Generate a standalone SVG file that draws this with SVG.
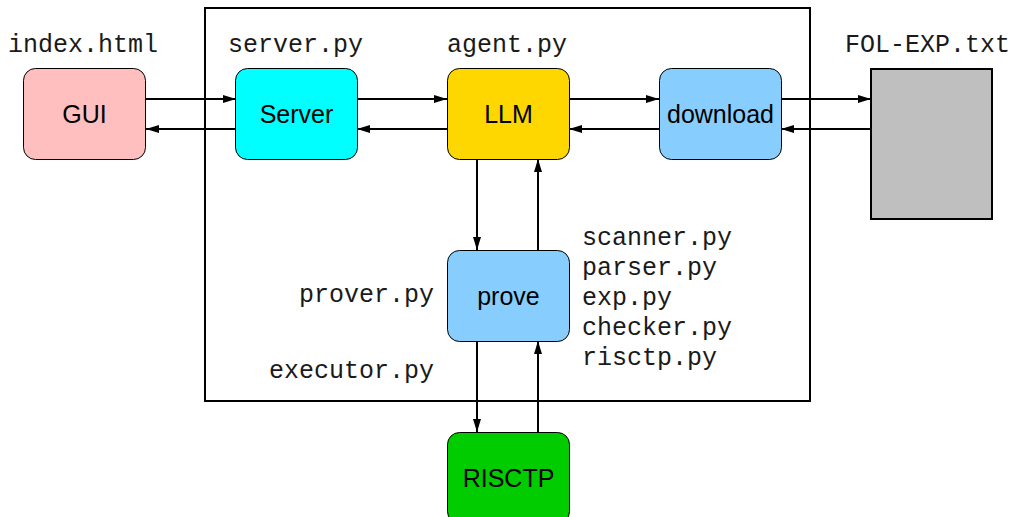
<svg xmlns="http://www.w3.org/2000/svg" width="1017" height="517" viewBox="0 0 1017 517">
  <style>
    .frame { fill: none; stroke: #000; stroke-width: 2; }
    .node { stroke: #000; stroke-width: 1; }
    .file { fill: #bfbfbf; stroke: #000; stroke-width: 2; }
    .lbl { font-family: "Liberation Sans", Arial, sans-serif; font-size: 25px; fill: #000; text-anchor: middle; }
    .mono { font-family: "Liberation Mono", "Courier New", monospace; font-size: 25px; fill: #1a1a1a; }
    .edge { stroke: #000; stroke-width: 2; fill: none; marker-end: url(#arrow); }
  </style>
  <defs>
    <marker id="arrow" markerWidth="13" markerHeight="8" refX="13" refY="4" orient="auto" markerUnits="userSpaceOnUse">
      <path d="M0,0 L13,4 L0,8 Z" fill="#000"/>
    </marker>
  </defs>

  <rect width="1017" height="517" fill="#fff"/>

  <!-- system boundary -->
  <rect class="frame" x="205" y="8" width="605" height="393"/>

  <!-- file labels -->
  <g id="file-labels">
    <text class="mono" x="8" y="52">index.html</text>
    <text class="mono" x="228" y="52">server.py</text>
    <text class="mono" x="447" y="52">agent.py</text>
    <text class="mono" x="845" y="52">FOL-EXP.txt</text>
    <text class="mono" x="434" y="302" text-anchor="end">prover.py</text>
    <text class="mono" x="434" y="378" text-anchor="end">executor.py</text>
    <text class="mono" x="582" y="245">scanner.py</text>
    <text class="mono" x="582" y="275">parser.py</text>
    <text class="mono" x="582" y="305">exp.py</text>
    <text class="mono" x="582" y="335">checker.py</text>
    <text class="mono" x="582" y="365">risctp.py</text>
  </g>

  <!-- connectors -->
  <g id="connectors">
    <line class="edge" x1="146" y1="99" x2="236" y2="99"/>
    <line class="edge" x1="236" y1="129" x2="146" y2="129"/>
    <line class="edge" x1="357" y1="99" x2="447" y2="99"/>
    <line class="edge" x1="447" y1="129" x2="357" y2="129"/>
    <line class="edge" x1="569" y1="99" x2="659" y2="99"/>
    <line class="edge" x1="659" y1="129" x2="569" y2="129"/>
    <line class="edge" x1="781" y1="99" x2="871" y2="99"/>
    <line class="edge" x1="871" y1="129" x2="781" y2="129"/>
    <line class="edge" x1="477" y1="159" x2="477" y2="250"/>
    <line class="edge" x1="538" y1="250" x2="538" y2="159"/>
    <line class="edge" x1="477" y1="341" x2="477" y2="432"/>
    <line class="edge" x1="538" y1="432" x2="538" y2="341"/>
  </g>

  <!-- nodes -->
  <g id="gui">
    <rect class="node" x="23.5" y="68.5" width="122" height="91" rx="12" fill="#ffbfbf"/>
    <text class="lbl" x="84.5" y="123">GUI</text>
  </g>
  <g id="server">
    <rect class="node" x="235.5" y="68.5" width="122" height="91" rx="12" fill="#00ffff"/>
    <text class="lbl" x="296.5" y="123">Server</text>
  </g>
  <g id="llm">
    <rect class="node" x="447.5" y="68.5" width="122" height="91" rx="12" fill="#ffd700"/>
    <text class="lbl" x="508.5" y="123">LLM</text>
  </g>
  <g id="download">
    <rect class="node" x="659.5" y="68.5" width="122" height="91" rx="12" fill="#87ceff"/>
    <text class="lbl" x="720.5" y="123">download</text>
  </g>
  <g id="fol-exp">
    <rect class="file" x="871" y="69" width="121" height="150"/>
  </g>
  <g id="prove">
    <rect class="node" x="447.5" y="250.5" width="122" height="91" rx="12" fill="#87ceff"/>
    <text class="lbl" x="508.5" y="305">prove</text>
  </g>
  <g id="risctp">
    <rect class="node" x="447.5" y="432.5" width="122" height="91" rx="12" fill="#00cc00"/>
    <text class="lbl" x="508.5" y="487">RISCTP</text>
  </g>
</svg>
